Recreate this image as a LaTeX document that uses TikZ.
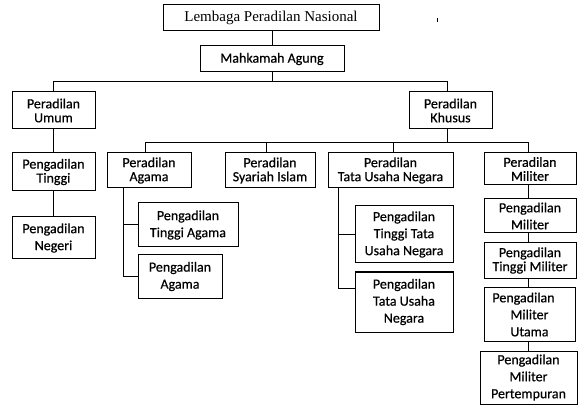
\documentclass[tikz,border=0pt]{standalone}
\usepackage{fontspec}
\setmainfont{Carlito}[FakeBold=0.5]
\newfontfamily\titlefont{Liberation Serif}
\begin{document}
\begin{tikzpicture}[x=1pt,y=-1pt,
  box/.style={draw, line width=1pt, inner sep=0pt, align=center,
    font=\fontsize{14}{17}\selectfont},
  tight/.style={font=\fontsize{14}{14}\selectfont},
  conn/.style={line width=1pt}]
\useasboundingbox (0,0) rectangle (588,411);
\fill[white] (0,0) rectangle (588,411);
% nodes
\node[box, minimum width=216pt, minimum height=26pt, font=\titlefont\fontsize{15}{15}\selectfont] (title) at (271,18) {Lembaga Peradilan Nasional};
\node[box, minimum width=144pt, minimum height=26pt] (ma) at (272,59) {Mahkamah Agung};
\node[box, tight, minimum width=83pt, minimum height=37pt] (umum) at (53.5,110.5) {Peradilan\\Umum};
\node[box, tight, minimum width=83pt, minimum height=37pt] (khusus) at (450.5,110.5) {Peradilan\\Khusus};
\node[box, tight, minimum width=83pt, minimum height=38pt] (tinggi) at (53.5,172) {Pengadilan\\Tinggi};
\node[box, minimum width=83pt, minimum height=42pt] (negeri) at (53.5,238) {Pengadilan\\Negeri};
\node[box, tight, minimum width=84pt, minimum height=35pt] (agama) at (149,170.5) {Peradilan\\Agama};
\node[box, tight, minimum width=90pt, minimum height=35pt] (syariah) at (270,170.5) {Peradilan\\Syariah Islam};
\node[box, tight, minimum width=125pt, minimum height=35pt] (tun) at (390.5,170.5) {Peradilan\\Tata Usaha Negara};
\node[box, tight, minimum width=92pt, minimum height=32pt] (militer) at (530,169) {Peradilan\\Militer};
\node[box, minimum width=100pt, minimum height=44pt] (tagama) at (188,225) {Pengadilan\\Tinggi Agama};
\node[box, minimum width=84pt, minimum height=43pt] (pagama) at (180,276.5) {Pengadilan\\Agama};
\node[box, minimum width=98pt, minimum height=57pt] (ttun) at (404,234.5) {Pengadilan\\Tinggi Tata\\Usaha Negara};
\node[box, minimum width=98pt, minimum height=60pt] (tun2) at (404,302) {Pengadilan\\Tata Usaha\\Negara};
\node[box, minimum width=92pt, minimum height=34pt] (pmil) at (530,216) {Pengadilan\\Militer};
\node[box, tight, minimum width=92pt, minimum height=35pt] (tmil) at (530,260.5) {Pengadilan\\Tinggi Militer};
\node[box, minimum width=91pt, minimum height=54pt] (umil) at (529.5,314.5) {Pengadilan\kern12pt\\Militer\\Utama};
\node[box, minimum width=97pt, minimum height=53pt] (pert) at (528.5,377.5) {Pengadilan\\Militer\\Pertempuran};
% connectors
\draw[conn] ([xshift=1pt]title.south) -- ([xshift=1pt]title.south |- ma.north);
\draw[conn] (ma.south) -- ++(0,10);
\draw[conn] (umum.north) -- ++(0,-10) -| ([xshift=-3.5pt]khusus.north);
\draw[conn] (umum.south) -- (umum.south |- tinggi.north);
\draw[conn] (tinggi.south) -- (negeri.north);
\draw[conn] ([xshift=-3.5pt]khusus.south) -- ++(0,14);
\draw[conn] ([xshift=-4pt]agama.north) -- ++(0,-10) -| ([xshift=-2pt]militer.north);
\draw[conn] ([xshift=-4pt]syariah.north) -- ++(0,-10);
\draw[conn] ([xshift=2.5pt]tun.north) -- ++(0,-10);
\draw[conn] ([xshift=-26pt]agama.south) |- (tagama.west);
\draw[conn] ([xshift=-26pt]agama.south) |- (pagama.west);
\draw[conn] ([xshift=-52.5pt]tun.south) |- (ttun.west);
\draw[conn] ([xshift=-52.5pt]tun.south) |- ([yshift=14pt]tun2.west);
\draw[conn] ([xshift=-2pt]militer.south) -- ([xshift=-2pt]militer.south |- pmil.north);
\draw[conn] ([xshift=-2pt]pmil.south) -- ([xshift=-2pt]pmil.south |- tmil.north);
\draw[conn] ([xshift=-2pt]tmil.south) -- ([xshift=-2pt]tmil.south |- umil.north);
\draw[conn] ([xshift=-1.5pt]umil.south) -- ([xshift=-1.5pt]umil.south |- pert.north);
% small stray mark
\draw[line width=0.8pt] (437,18) -- (437,22);
\end{tikzpicture}
\end{document}
